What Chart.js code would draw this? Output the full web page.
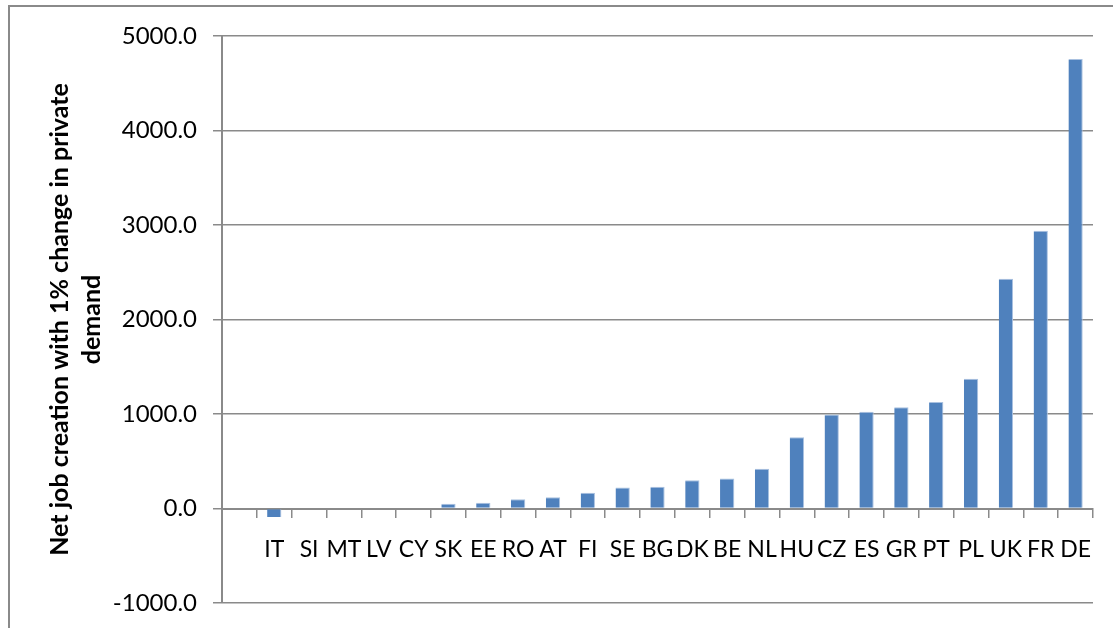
<!DOCTYPE html>
<html>
<head>
<meta charset="utf-8">
<script src="https://cdn.jsdelivr.net/npm/chart.js@4.4.0/dist/chart.umd.min.js"></script>
<style>
  body { margin: 0; background: #fff; }
  #wrap { position: relative; width: 1113px; height: 628px; }
  #frame {
    position: absolute; left: 8px; top: 5px; right: -2px; bottom: -2px;
    border-top: 2px solid #8a8a8a; border-left: 2px solid #8a8a8a;
    pointer-events: none;
  }
</style>
</head>
<body>
<div id="wrap">
  <canvas id="myChart" width="1113" height="628"></canvas>
  <div id="frame"></div>
</div>
<script>
// first category is empty in the source chart
const countries = ["", "IT", "SI", "MT", "LV", "CY", "SK", "EE", "RO", "AT", "FI", "SE", "BG",
  "DK", "BE", "NL", "HU", "CZ", "ES", "GR", "PT", "PL", "UK", "FR", "DE"];
const jobCreation = [null, -90, 0, 0, 0, 0, 50, 60, 98, 120, 166, 222, 229,
  299, 317, 420, 754, 994, 1025, 1071, 1128, 1374, 2431, 2939, 4757];
const yTicks = [-1000, 0, 1000, 2000, 3000, 4000, 5000];

const gridGray = "#8a8a8a";
const font = "Lato, 'Liberation Sans', sans-serif";

const ctx = document.getElementById("myChart").getContext("2d");
const myChart = new Chart(ctx, {
  type: "bar",
  data: {
    labels: countries,
    datasets: [
      {
        label: "Net job creation",
        data: jobCreation,
        backgroundColor: "#4f81bd",
        borderColor: "#a9c1e0",
        borderWidth: { left: 0, right: 1, top: 1, bottom: 0 },
        categoryPercentage: 1,
        barPercentage: 0.41,
      },
    ],
  },
  options: {
    responsive: false,
    animation: false,
    layout: { padding: { left: 44, right: 20, top: 36, bottom: 10 } },
    plugins: {
      legend: { display: false },
      tooltip: { enabled: false },
    },
    scales: {
      x: {
        position: { y: 0 },
        offset: true,
        grid: {
          offset: true,
          drawOnChartArea: false,
          drawTicks: true,
          tickLength: 8,
          color: gridGray,
          lineWidth: 1.5,
        },
        border: { display: true, color: gridGray, width: 2 },
        ticks: {
          color: "#000",
          font: { family: font, size: 23 },
          padding: 19,
          maxRotation: 0,
          autoSkip: false,
        },
      },
      y: {
        min: -1000,
        max: 5000,
        afterBuildTicks: (axis) => {
          axis.ticks = yTicks.map((v) => ({ value: v }));
        },
        afterFit: (axis) => {
          axis.width = 178;
        },
        grid: {
          color: gridGray,
          lineWidth: 1.5,
          tickLength: 9,
        },
        border: { display: true, color: gridGray, width: 2 },
        ticks: {
          color: "#000",
          font: { family: font, size: 24, lineHeight: 0.75 },
          padding: 16,
          callback: (v) => Number(v).toFixed(1),
        },
        title: {
          display: true,
          text: ["Net job creation with 1% change in private", "demand"],
          color: "#000",
          font: { family: font, size: 25, weight: "bold", lineHeight: 1.28 },
          padding: { top: 0, bottom: 0 },
        },
      },
    },
  },
});
</script>
</body>
</html>
